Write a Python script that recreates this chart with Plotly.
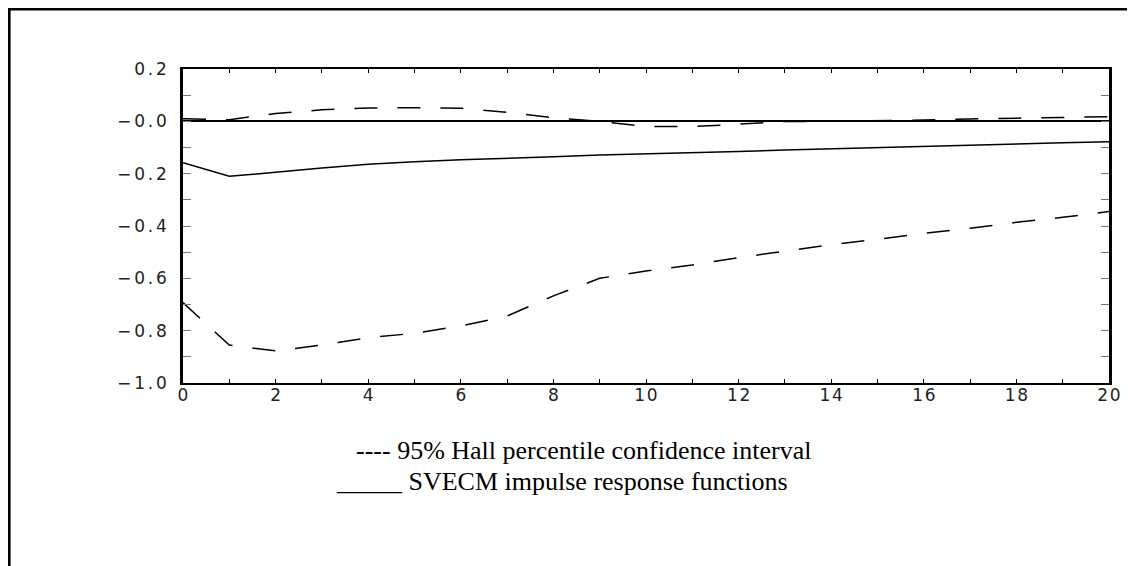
import plotly.graph_objects as go

# ---- data ----
horizon = list(range(0, 21))
irf = [-0.158, -0.210, -0.195, -0.178, -0.164, -0.154, -0.147, -0.140, -0.135, -0.129,
       -0.125, -0.120, -0.115, -0.110, -0.105, -0.101, -0.096, -0.091, -0.087, -0.082, -0.078]
ci_upper = [0.010, 0.006, 0.030, 0.044, 0.051, 0.052, 0.050, 0.034, 0.014, 0.000,
            -0.020, -0.020, -0.011, -0.001, 0.000, 0.002, 0.005, 0.009, 0.011, 0.015, 0.018]
ci_lower = [-0.693, -0.855, -0.877, -0.855, -0.827, -0.810, -0.782, -0.744, -0.667, -0.600,
            -0.572, -0.549, -0.521, -0.497, -0.471, -0.451, -0.428, -0.409, -0.386, -0.367, -0.345]

y_tickvals = [0.2, 0.0, -0.2, -0.4, -0.6, -0.8, -1.0]
y_ticktext = ["0.2", "\u22120.0", "\u22120.2", "\u22120.4", "\u22120.6", "\u22120.8", "\u22121.0"]
x_tickvals = [0, 2, 4, 6, 8, 10, 12, 14, 16, 18, 20]
x_ticktext = ["0", "2", "4", "6", "8", "10", "12", "14", "16", "18", "20"]

legend_lines = ["---- 95% Hall percentile confidence interval",
                "_____ SVECM impulse response functions"]


def spaced(s, sp):
    return sp.join(list(s))


# page body has an 8px margin, so the figure is sized to the remaining area
W, H = 1127, 558
L, R, T, B = 175, 26, 61, 183
PW, PH = W - L - R, H - T - B


def px(x):
    return (x - L) / PW


def py(y):
    return (H - B - y) / PH


fig = go.Figure()
dash_style = dict(color="black", width=1.5, dash="23px,20px")
fig.add_trace(go.Scatter(x=horizon, y=ci_upper, mode="lines", line=dash_style,
                         showlegend=False, hoverinfo="skip"))
fig.add_trace(go.Scatter(x=horizon, y=ci_lower, mode="lines", line=dash_style,
                         showlegend=False, hoverinfo="skip"))
fig.add_trace(go.Scatter(x=horizon, y=irf, mode="lines",
                         line=dict(color="black", width=1.5),
                         showlegend=False, hoverinfo="skip"))

tick_font = dict(family="DejaVu Sans", size=17, color="#222")

fig.update_layout(
    width=W, height=H,
    margin=dict(l=L, r=R, t=T, b=B),
    paper_bgcolor="white", plot_bgcolor="white",
    xaxis=dict(range=[0, 20], tickvals=x_tickvals,
               ticktext=[spaced(t, "\u200a") for t in x_ticktext],
               ticks="inside", ticklen=4, tickwidth=1.2, tickcolor="black",
               minor=dict(dtick=1, ticks="inside", ticklen=4, tickwidth=1.2, tickcolor="black"),
               showline=True, linecolor="black", linewidth=2, mirror="ticks",
               showgrid=False, zeroline=False, tickfont=tick_font, ticklabelstandoff=-4),
    yaxis=dict(range=[-1.0, 0.2], tickvals=y_tickvals,
               ticktext=[spaced(t, "\u2006") for t in y_ticktext],
               ticks="inside", ticklen=8, tickwidth=1.2, tickcolor="#777",
               minor=dict(dtick=0.1, ticks="inside", ticklen=8, tickwidth=1.2, tickcolor="#777"),
               showline=True, linecolor="black", linewidth=2.5, mirror="ticks",
               showgrid=False, zeroline=True, zerolinecolor="black", zerolinewidth=1.5,
               tickfont=tick_font, ticklabelstandoff=10),
)

# outer frame (top and left edges only)
fig.add_shape(type="line", xref="paper", yref="paper",
              x0=px(0), x1=px(W), y0=py(1.3), y1=py(1.3),
              line=dict(color="black", width=2.6))
fig.add_shape(type="line", xref="paper", yref="paper",
              x0=px(1.3), x1=px(1.3), y0=py(0), y1=py(H + 5),
              line=dict(color="black", width=2.6))

# legend text lines
fig.add_annotation(text=legend_lines[0], xref="paper", yref="paper",
                   x=px(584 - 8), y=py(450 - 8), showarrow=False,
                   xanchor="center", yanchor="middle",
                   font=dict(family="Liberation Serif", size=26, color="black"))
fig.add_annotation(text=legend_lines[1], xref="paper", yref="paper",
                   x=px(562 - 8), y=py(481 - 8), showarrow=False,
                   xanchor="center", yanchor="middle",
                   font=dict(family="Liberation Serif", size=26, color="black"))

fig.write_html("out.html")
